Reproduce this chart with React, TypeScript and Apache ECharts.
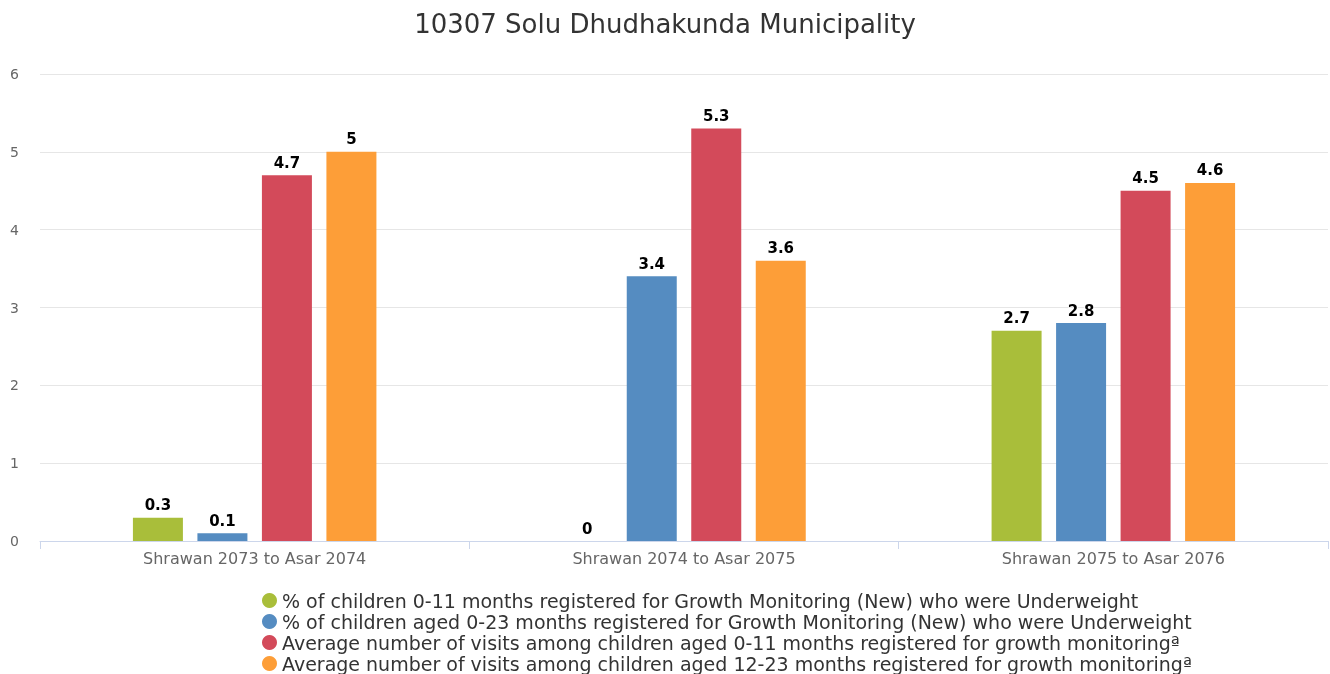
import React, { useEffect, useRef } from "react";
import * as echarts from "echarts";

const categories = ["Shrawan 2073 to Asar 2074", "Shrawan 2074 to Asar 2075", "Shrawan 2075 to Asar 2076"];
const seriesNames = [
  "% of children 0-11 months registered for Growth Monitoring (New) who were Underweight",
  "% of children aged 0-23 months registered for Growth Monitoring (New) who were Underweight",
  "Average number of visits among children aged 0-11 months registered for growth monitoringª",
  "Average number of visits among children aged 12-23 months registered for growth monitoringª",
];
const underweight011 = [0.3, 0, 2.7];
const underweight023 = [0.1, 3.4, 2.8];
const visits011 = [4.7, 5.3, 4.5];
const visits1223 = [5, 3.6, 4.6];
const colors = ["#a9be3a", "#558cc1", "#d34a5a", "#fd9e38"];
const yTicks = [0, 1, 2, 3, 4, 5, 6];

export default function App() {
  const ref = useRef<HTMLDivElement>(null);
  useEffect(() => {
    if (!ref.current) return;
    const chart = echarts.init(ref.current, null, { renderer: "svg" });
    const font = "DejaVu Sans";
    const data = [underweight011, underweight023, visits011, visits1223];
    chart.setOption({
      animation: false,
      textStyle: { fontFamily: font },
      title: {
        text: "10307 Solu Dhudhakunda Municipality",
        left: "center",
        top: 6,
        textStyle: { fontFamily: font, fontSize: 26, fontWeight: "normal", color: "#333333" },
      },
      grid: { left: 40, right: 2, top: 74, bottom: 133, containLabel: false },
      legend: {
        orient: "vertical",
        left: 257,
        top: 586,
        height: 120,
        itemWidth: 15,
        itemHeight: 15,
        itemGap: 2,
        icon: "circle",
        textStyle: { fontFamily: font, fontSize: 19, color: "#333333" },
        data: seriesNames,
      },
      xAxis: {
        type: "category",
        data: categories,
        axisLine: { lineStyle: { color: "#ccd6eb" } },
        axisTick: { show: true, alignWithLabel: false, length: 8, lineStyle: { color: "#ccd6eb" } },
        axisLabel: { color: "#666666", fontSize: 16, margin: 9, fontFamily: font },
      },
      yAxis: {
        type: "value",
        min: yTicks[0],
        max: yTicks[yTicks.length - 1],
        interval: 1,
        axisLine: { show: false },
        axisTick: { show: false },
        splitLine: { lineStyle: { color: "#e6e6e6" } },
        axisLabel: { color: "#666666", fontSize: 14, margin: 21, fontFamily: font },
      },
      series: seriesNames.map((name, i) => ({
        name,
        type: "bar",
        data: data[i],
        barWidth: 50,
        barGap: "29%",
        itemStyle: { color: colors[i] },
        label: {
          show: true,
          position: "top",
          distance: 5,
          color: "#000000",
          fontWeight: "bold",
          fontSize: 15,
          fontFamily: font,
          textBorderColor: "#ffffff",
          textBorderWidth: 2,
        },
      })),
    });
    return () => chart.dispose();
  }, []);
  return <div ref={ref} style={{ position: "fixed", left: 0, top: 0, width: 1330, height: 674 }} />;
}
